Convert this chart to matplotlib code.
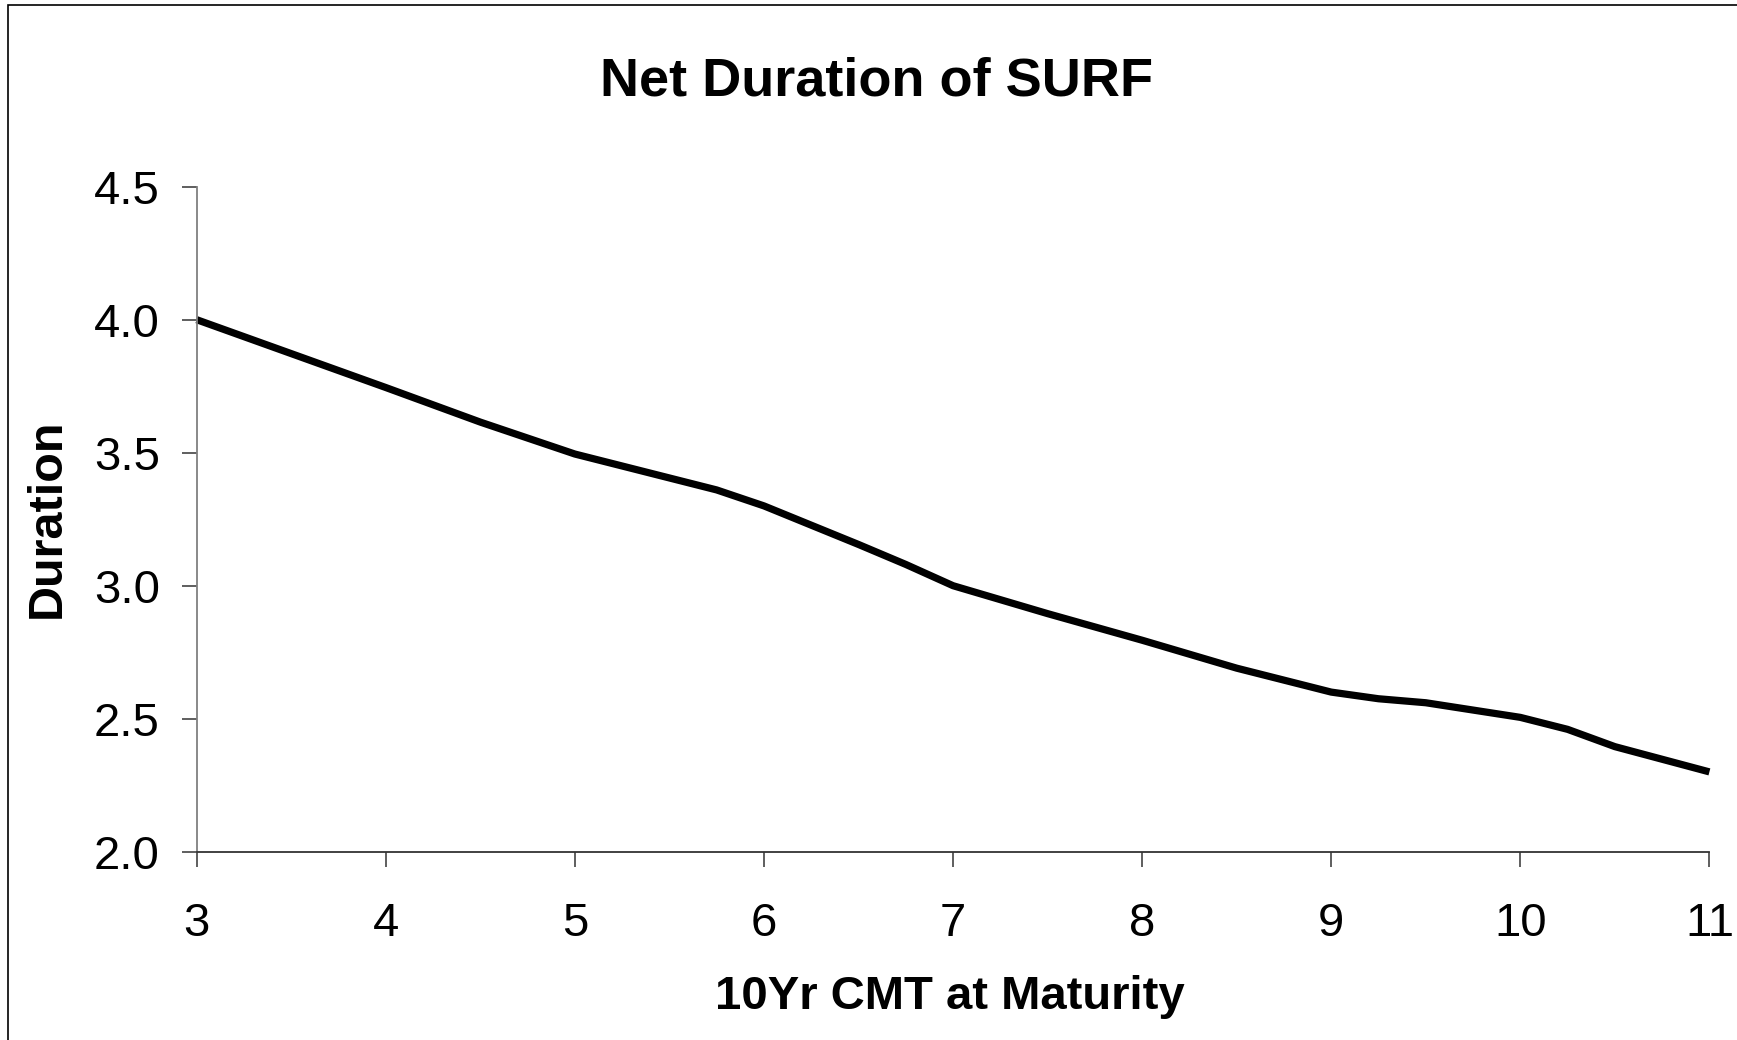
import matplotlib
matplotlib.use("Agg")
import matplotlib.pyplot as plt
from matplotlib.patches import Rectangle
from matplotlib.ticker import FormatStrFormatter

# 10Yr CMT at maturity vs net duration of the SURF
cmt = [3, 4, 4.5, 5, 5.75, 6, 6.5, 6.75, 7, 7.5, 8, 8.5, 9, 9.25, 9.5, 10, 10.25, 10.5, 11]
duration = [4.00, 3.745, 3.615, 3.495, 3.36, 3.30, 3.155, 3.08, 3.00, 2.895, 2.795, 2.69,
            2.60, 2.575, 2.56, 2.505, 2.46, 2.395, 2.30]

xTicks = [3, 4, 5, 6, 7, 8, 9, 10, 11]
yTicks = [2.0, 2.5, 3.0, 3.5, 4.0, 4.5]

plt.rcParams['font.family'] = ['Liberation Sans', 'DejaVu Sans']

W, H = 1737, 1040
fig = plt.figure(figsize=(W / 100, H / 100), dpi=100)
ax = fig.add_axes([196.7 / W, 1 - 851.7 / H, (1709.4 - 196.7) / W, (851.7 - 186.7) / H])

ax.plot(cmt, duration, color='black', lw=5.2, solid_capstyle='butt', solid_joinstyle='round', clip_on=False)

ax.set_xlim(3, 11)
ax.set_ylim(2.0, 4.5)
ax.set_xticks(xTicks)
ax.set_yticks(yTicks)
ax.yaxis.set_major_formatter(FormatStrFormatter('%.1f'))

ax.spines['top'].set_visible(False)
ax.spines['right'].set_visible(False)
ax.spines['left'].set_color('#808080')
ax.spines['left'].set_linewidth(1.3)
ax.spines['bottom'].set_color('#333333')
ax.spines['bottom'].set_linewidth(1.3)
ax.tick_params(axis='both', direction='out', length=10.5, width=1.1, color='#333333', labelsize=34)
ax.tick_params(axis='y', pad=16)
ax.tick_params(axis='x', pad=26)

ax.set_xlabel('10Yr CMT at Maturity', fontsize=34, fontweight='bold')
ax.xaxis.set_label_coords((950 - 196.7) / (1709.4 - 196.7), -(997 - 851.7) / (851.7 - 186.7))
ax.xaxis.label.set_va('center')
ax.set_ylabel('Duration', fontsize=35, fontweight='bold')
ax.yaxis.set_label_coords(-(196.7 - 47) / (1709.4 - 196.7), (851.7 - 518) / (851.7 - 186.7))
ax.yaxis.label.set_va('center')

fig.text(877 / W, 1 - 81 / H, 'Net Duration of SURF', fontsize=39, fontweight='bold',
         ha='center', va='center')

# outer chart border (only left and top edges fall inside the picture)
fig.patches.append(Rectangle((8 / W, -0.1), 1.2, 1.1 - 5 / H, transform=fig.transFigure,
                             fill=False, edgecolor='black', lw=1.2))

fig.savefig('out.png', dpi=100)
